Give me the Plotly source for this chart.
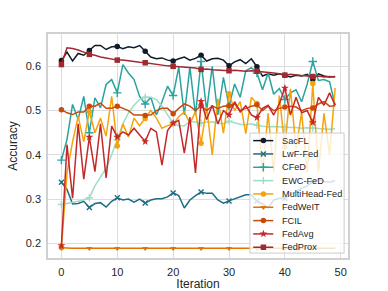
import plotly.graph_objects as go

iterations = list(range(50))

sacfl = [0.613, 0.632, 0.612, 0.629, 0.625, 0.636, 0.647, 0.647, 0.638, 0.644,
         0.645, 0.640, 0.644, 0.642, 0.647, 0.634, 0.621, 0.617, 0.619, 0.614,
         0.612, 0.617, 0.621, 0.614, 0.618, 0.625, 0.612, 0.617, 0.618, 0.614,
         0.601, 0.610, 0.615, 0.606, 0.617, 0.599, 0.578, 0.583, 0.580, 0.583,
         0.580, 0.576, 0.580, 0.578, 0.582, 0.570, 0.583, 0.578, 0.576, 0.577]
lwf_fed = [0.338, 0.322, 0.289, 0.290, 0.295, 0.281, 0.290, 0.292, 0.282, 0.295,
           0.303, 0.298, 0.300, 0.293, 0.300, 0.291, 0.298, 0.301, 0.301, 0.305,
           0.314, 0.308, 0.280, 0.298, 0.308, 0.316, 0.313, 0.313, 0.298, 0.291,
           0.296, 0.301, 0.306, 0.310, 0.310, 0.296, 0.289, 0.280, 0.298, 0.302,
           0.302, 0.310, 0.318, 0.325, 0.330, 0.340, 0.345, 0.340, 0.338, 0.342]
cfed = [0.388, 0.435, 0.514, 0.480, 0.532, 0.450, 0.529, 0.506, 0.559, 0.570,
        0.540, 0.604, 0.585, 0.570, 0.532, 0.515, 0.530, 0.490, 0.520, 0.555,
        0.534, 0.598, 0.490, 0.598, 0.490, 0.611, 0.500, 0.600, 0.490, 0.575,
        0.510, 0.560, 0.530, 0.590, 0.597, 0.585, 0.547, 0.585, 0.537, 0.550,
        0.525, 0.540, 0.547, 0.520, 0.560, 0.611, 0.568, 0.570, 0.565, 0.512]
ewc_fed = [0.288, 0.290, 0.292, 0.295, 0.298, 0.303, 0.330, 0.350, 0.370, 0.400,
           0.434, 0.470, 0.495, 0.512, 0.525, 0.530, 0.530, 0.525, 0.510, 0.490,
           0.471, 0.466, 0.465, 0.476, 0.474, 0.472, 0.474, 0.474, 0.472, 0.470,
           0.476, 0.472, 0.469, 0.468, 0.470, 0.467, 0.465, 0.463, 0.464, 0.463,
           0.463, 0.462, 0.462, 0.460, 0.461, 0.460, 0.460, 0.459, 0.458, 0.459]
multihead_fed = [0.190, 0.360, 0.430, 0.487, 0.430, 0.498, 0.450, 0.483, 0.442, 0.532,
                 0.420, 0.470, 0.440, 0.483, 0.466, 0.482, 0.500, 0.483, 0.460, 0.466,
                 0.470, 0.486, 0.497, 0.471, 0.497, 0.426, 0.508, 0.400, 0.527, 0.449,
                 0.538, 0.500, 0.520, 0.448, 0.530, 0.516, 0.360, 0.494, 0.360, 0.534,
                 0.418, 0.549, 0.414, 0.496, 0.360, 0.561, 0.360, 0.494, 0.400, 0.551]
fedweit = [0.190, 0.189, 0.189, 0.189, 0.189, 0.189, 0.189, 0.189, 0.189, 0.189,
           0.189, 0.189, 0.189, 0.189, 0.189, 0.189, 0.189, 0.189, 0.189, 0.189,
           0.189, 0.189, 0.189, 0.189, 0.189, 0.189, 0.189, 0.189, 0.189, 0.189,
           0.189, 0.189, 0.189, 0.189, 0.189, 0.189, 0.189, 0.189, 0.189, 0.189,
           0.189, 0.189, 0.189, 0.189, 0.189, 0.189, 0.189, 0.189, 0.189, 0.189]
fcil = [0.502, 0.495, 0.491, 0.497, 0.497, 0.510, 0.510, 0.517, 0.505, 0.505,
        0.510, 0.505, 0.500, 0.490, 0.490, 0.489, 0.490, 0.500, 0.505, 0.505,
        0.493, 0.505, 0.515, 0.510, 0.500, 0.511, 0.500, 0.510, 0.505, 0.510,
        0.511, 0.515, 0.500, 0.505, 0.510, 0.513, 0.500, 0.510, 0.500, 0.505,
        0.508, 0.510, 0.508, 0.500, 0.505, 0.506, 0.515, 0.520, 0.510, 0.511]
fedavg = [0.195, 0.423, 0.302, 0.470, 0.345, 0.440, 0.362, 0.470, 0.348, 0.465,
          0.440, 0.452, 0.445, 0.460, 0.445, 0.430, 0.460, 0.452, 0.377, 0.455,
          0.472, 0.478, 0.404, 0.485, 0.359, 0.521, 0.480, 0.512, 0.470, 0.500,
          0.490, 0.520, 0.497, 0.511, 0.490, 0.484, 0.505, 0.512, 0.490, 0.515,
          0.551, 0.490, 0.530, 0.495, 0.500, 0.473, 0.530, 0.512, 0.540, 0.512]
fedprox = [0.604, 0.642, 0.640, 0.637, 0.632, 0.627, 0.625, 0.621, 0.619, 0.616,
           0.614, 0.614, 0.612, 0.611, 0.609, 0.608, 0.606, 0.604, 0.602, 0.601,
           0.600, 0.599, 0.598, 0.597, 0.596, 0.593, 0.594, 0.592, 0.591, 0.591,
           0.590, 0.591, 0.590, 0.589, 0.590, 0.589, 0.587, 0.586, 0.585, 0.583,
           0.580, 0.582, 0.580, 0.579, 0.578, 0.577, 0.578, 0.576, 0.577, 0.576]

names = ["SacFL", "LwF-Fed", "CFeD", "EWC-FeD", "MultiHead-Fed", "FedWeIT", "FCIL", "FedAvg", "FedProx"]
series = [sacfl, lwf_fed, cfed, ewc_fed, multihead_fed, fedweit, fcil, fedavg, fedprox]
colors = ["#0f1c28", "#1c6e86", "#2aa39f", "#9edcc7", "#f5a30c", "#e27303", "#c84b0c", "#c4282a", "#a12a30"]
symbols = ["circle", "x-thin", "cross-thin", "cross-thin", "circle", "triangle-down", "circle", "star", "square"]
sizes = [5.5, 5, 6, 5, 5.5, 5.5, 5.5, 6, 5.5]
mark_every = 5

FONT = "Liberation Sans, Arial, sans-serif"
TXT = "#262626"

fig = go.Figure()

def marker_style(sym, col, size):
    thin = sym.endswith("-thin")
    return dict(symbol=sym, size=size, color=col,
                line=dict(color=col, width=1.4 if thin else 0))

for name, ys, col, sym, sz in zip(names, series, colors, symbols, sizes):
    fig.add_trace(go.Scatter(x=iterations, y=ys, mode="lines", name=name,
                             line=dict(color=col, width=1.5), showlegend=False,
                             hoverinfo="skip"))
    fig.add_trace(go.Scatter(x=iterations[::mark_every], y=ys[::mark_every], mode="markers",
                             marker=marker_style(sym, col, sz), showlegend=False,
                             hoverinfo="skip"))

# custom legend (drawn on an overlay axis with a 0..1 range)
box_x0, box_x1, box_y0, box_y1 = 0.673, 0.987, 0.022, 0.558
fig.add_trace(go.Scatter(x=[box_x0, box_x1, box_x1, box_x0, box_x0],
                         y=[box_y0, box_y0, box_y1, box_y1, box_y0],
                         mode="lines", fill="toself", fillcolor="rgba(255,255,255,0.8)",
                         line=dict(color="#cccccc", width=1), xaxis="x2", yaxis="y2",
                         showlegend=False, hoverinfo="skip"))
row_top, row_step = 0.524, 0.0595
ln_x0, ln_xm, ln_x1, txt_x = 0.684, 0.718, 0.751, 0.773
annotations = []
for k, (name, col, sym, sz) in enumerate(zip(names, colors, symbols, sizes)):
    yk = row_top - k * row_step
    fig.add_trace(go.Scatter(x=[ln_x0, ln_x1], y=[yk, yk], mode="lines",
                             line=dict(color=col, width=1.5), xaxis="x2", yaxis="y2",
                             showlegend=False, hoverinfo="skip"))
    fig.add_trace(go.Scatter(x=[ln_xm], y=[yk], mode="markers",
                             marker=marker_style(sym, col, sz), xaxis="x2", yaxis="y2",
                             showlegend=False, hoverinfo="skip"))
    annotations.append(dict(x=txt_x, y=yk, xref="paper", yref="paper", text=name,
                            showarrow=False, xanchor="left", yanchor="middle",
                            font=dict(family=FONT, size=9.2, color=TXT)))

fig.update_layout(
    width=388, height=291,
    margin=dict(l=48, r=40, t=34, b=33),
    paper_bgcolor="white", plot_bgcolor="white",
    font=dict(family=FONT, color=TXT, size=11),
    xaxis=dict(range=[-2.4, 51.3], tickvals=[0, 10, 20, 30, 40, 50],
               showgrid=True, gridcolor="#dddddd", gridwidth=1.3, zeroline=False,
               showline=True, mirror=True, linecolor="#d0d0d0", linewidth=1.5,
               ticks="outside", ticklen=3, tickcolor="rgba(0,0,0,0)",
               tickfont=dict(size=11, color=TXT), automargin=False,
               title=dict(text="Iteration", font=dict(size=12, color=TXT), standoff=0)),
    yaxis=dict(range=[0.167, 0.673], tickvals=[0.2, 0.3, 0.4, 0.5, 0.6],
               ticktext=["0.2", "0.3", "0.4", "0.5", "0.6"],
               showgrid=True, gridcolor="#dddddd", gridwidth=1.3, zeroline=False,
               showline=True, mirror=True, linecolor="#d0d0d0", linewidth=1.5,
               ticks="outside", ticklen=3, tickcolor="rgba(0,0,0,0)",
               tickfont=dict(size=11, color=TXT), automargin=False,
               title=dict(text="Accuracy", font=dict(size=12, color=TXT), standoff=6)),
    xaxis2=dict(overlaying="x", anchor="y2", range=[0, 1], visible=False, fixedrange=True),
    yaxis2=dict(overlaying="y", anchor="x2", range=[0, 1], visible=False, fixedrange=True),
    annotations=annotations,
    showlegend=False,
)

fig.write_html("out.html", config={"displayModeBar": False},
               post_script="document.body.style.margin='0';document.body.style.overflow='hidden';")
